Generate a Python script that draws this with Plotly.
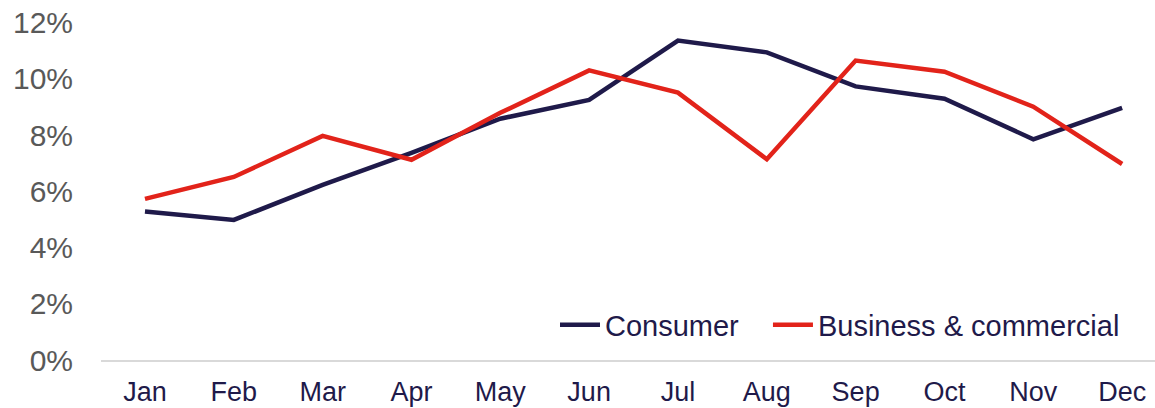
import plotly.graph_objects as go

months = ["Jan", "Feb", "Mar", "Apr", "May", "Jun", "Jul", "Aug", "Sep", "Oct", "Nov", "Dec"]
consumer = [5.28, 4.98, 6.23, 7.37, 8.58, 9.25, 11.36, 10.94, 9.73, 9.29, 7.85, 8.97]
business = [5.73, 6.51, 7.97, 7.12, 8.79, 10.30, 9.51, 7.14, 10.65, 10.25, 9.01, 6.97]
y_ticks = [0, 2, 4, 6, 8, 10, 12]
y_ticktext = [f"{v}%" for v in y_ticks]
series_names = ["Consumer", "Business & commercial"]

NAVY = "#1F1A4A"
RED = "#E2231A"
FONT = "Liberation Sans, Arial, sans-serif"

PX_PER_PCT = 337 / 12
Y_TOP = 12.02
W, H = 1155, 408
L, B = 101, 408 - 360
T = 23 - (Y_TOP - 12) * PX_PER_PCT
PW = W - L
PH = H - B - T

x_idx = list(range(len(months)))

fig = go.Figure()
fig.add_trace(go.Scatter(x=x_idx, y=consumer, name=series_names[0] + "\u00a0\u00a0\u00a0", mode="lines",
                         line=dict(color=NAVY, width=4.5)))
fig.add_trace(go.Scatter(x=x_idx, y=business, name=series_names[1], mode="lines",
                         line=dict(color=RED, width=4.5)))

fig.update_layout(
    width=W, height=H,
    margin=dict(l=L, r=0, t=T, b=B, autoexpand=False),
    paper_bgcolor="white", plot_bgcolor="white",
    font=dict(family=FONT, color=NAVY),
    showlegend=True,
    legend=dict(orientation="h", x=1.0 - (1155 - 1125) / PW, xanchor="right",
                y=(360 - 325) / PH, yanchor="middle",
                font=dict(size=29, color=NAVY), bgcolor="rgba(0,0,0,0)",
                itemwidth=40, tracegroupgap=0),
    xaxis=dict(range=[-0.495, 11.37], tickvals=x_idx, ticktext=months,
               showgrid=False, zeroline=False, showline=True, automargin=False,
               linecolor="#D9D9D9", linewidth=2, ticks="",
               tickfont=dict(size=27, color=NAVY, family=FONT),
               ticklabelstandoff=7),
    yaxis=dict(range=[0, Y_TOP], tickvals=y_ticks, ticktext=y_ticktext,
               showgrid=False, zeroline=False, showline=False, ticks="", automargin=False,
               tickfont=dict(size=30, color="#595959", family=FONT),
               ticklabelstandoff=27, ticklabeloverflow="allow"),
)

fig.write_html("out.html", config={"displayModeBar": False},
               post_script="document.body.style.margin='0';document.body.style.overflow='hidden';")
